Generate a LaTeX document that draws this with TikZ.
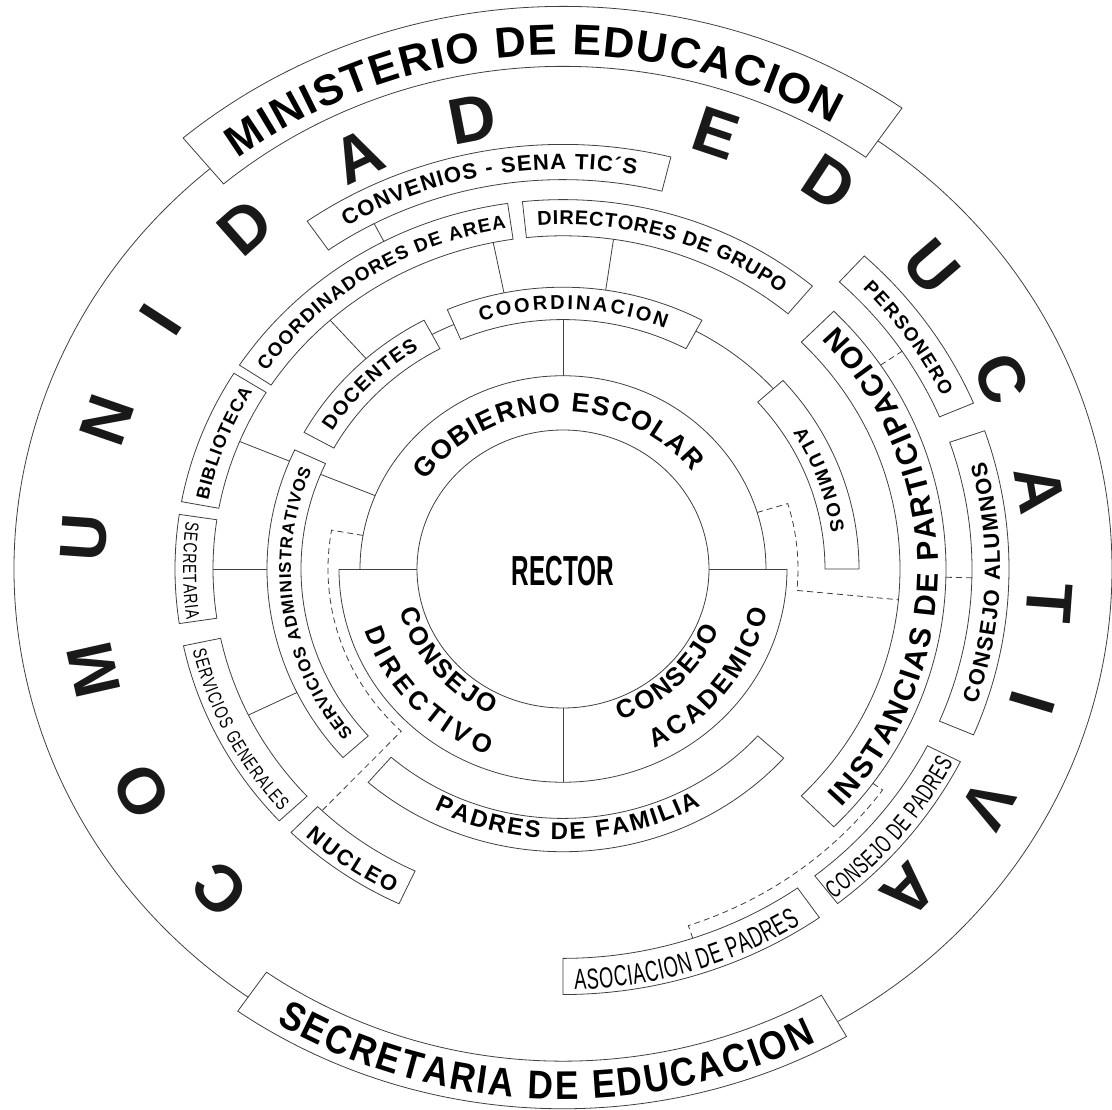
\documentclass[tikz,border=0pt]{standalone}
\usepackage{fontspec}
\setmainfont{Liberation Sans}
\newfontfamily\narrowf[FakeStretch=0.74]{Liberation Sans}
\newfontfamily\narrowg[FakeStretch=0.63]{Liberation Sans}
\newfontfamily\secf[FakeStretch=0.88]{Liberation Sans Bold}
\newfontfamily\rectorf[FakeStretch=0.58]{Liberation Sans Bold}
\usetikzlibrary{decorations.text}

\tikzset{
  ln/.style={line width=0.8pt, draw=black!75},
  dsh/.style={line width=0.8pt, draw=black!75, dash pattern=on 6pt off 4pt},
  big/.style={font=\fontsize{65}{65}\selectfont\bfseries, inner sep=0pt, text=black!90},
}

% annular box: r1 r2 a1 a2
\newcommand{\rbox}[4]{%
  \draw[ln] (#3:#1) arc[start angle=#3,end angle=#4,radius=#1] -- (#4:#2)
    arc[start angle=#4,end angle=#3,radius=#2] -- cycle;}
% text along arc: r a1 a2 format text
\newcommand{\atext}[5]{%
  \path[decorate,decoration={text along path,text align={fit to path},
    text={|#4|#5}}] (#2:#1) arc[start angle=#2,end angle=#3,radius=#1];}
\newcommand{\fs}[1]{\fontsize{#1}{#1}\selectfont}

\begin{document}
\begin{tikzpicture}[x=1pt,y=0.952pt]
\useasboundingbox (-563pt,-541pt) rectangle (549pt,569pt);
\fill[white] (-563pt,-541pt) rectangle (549pt,569pt);

% ---- core ----
\draw[ln] (0,0) circle[radius=146];
\draw[ln] (0:203) arc[start angle=0,end angle=180,radius=203];
\draw[ln] (180:224) arc[start angle=180,end angle=360,radius=224];
\coordinate (hL1) at (180:224); \coordinate (hL2) at (180:146);
\coordinate (hR1) at (0:224);   \coordinate (hR2) at (0:146);
\coordinate (vB1) at (270:146); \coordinate (vB2) at (270:224);
\coordinate (vT1) at (90:203);  \coordinate (vT2) at (90:262);
\draw[ln] (hL1) -- (hL2);
\draw[ln] (hR1) -- (hR2);
\draw[ln] (vB1) -- (vB2);
\draw[ln] (vT1) -- (vT2);

% ---- outer circle ----
\draw[ln] (130:549) arc[start angle=130,end angle=235,radius=549];
\draw[ln] (-60:549) arc[start angle=-60,end angle=55,radius=549];

% ---- boxes ----
\rbox{528}{591}{55}{130}      % ministerio
\rbox{517}{567}{235}{300}     % secretaria de educacion
\rbox{409}{446}{76}{125}      % convenios
\rbox{350}{388}{98.2}{146.5}  % coordinadores
\rbox{350}{388}{50}{96}       % directores
\rbox{262}{296}{62}{113}      % coordinacion
\rbox{262}{296}{118}{151}     % docentes
\rbox{262}{296}{0}{42}        % alumnos
\rbox{262}{296}{155}{222}     % servicios administrativos
\rbox{350}{388}{148}{169.5}   % biblioteca
\rbox{350}{388}{171.5}{188.5} % secretaria
\rbox{350}{388}{192}{223}     % servicios generales
\rbox{350}{388}{225.5}{245}   % nucleo
\rbox{262}{297}{229}{318}     % padres de familia
\rbox{337}{383}{-45}{45}      % instancias
\rbox{409}{446}{23}{47.5}     % personero
\rbox{409}{446}{-23}{19}      % consejo alumnos
\rbox{409}{446}{-52}{-27}     % consejo de padres
\rbox{409}{447}{-90}{-55}     % asociacion

% ---- solid connectors ----
\coordinate (s1a) at (157.7:203); \coordinate (s1b) at (157.7:262);
\coordinate (s2a) at (157.5:296); \coordinate (s2b) at (157.5:350);
\coordinate (s3a) at (180:296);   \coordinate (s3b) at (180:350);
\coordinate (s4a) at (206:296);   \coordinate (s4b) at (206:350);
\coordinate (s5a) at (131.7:296); \coordinate (s5b) at (131.7:350);
\coordinate (s6a) at (101.5:296); \coordinate (s6b) at (101.5:350);
\coordinate (s7a) at (81.7:296);  \coordinate (s7b) at (81.7:350);
\coordinate (s8a) at (117.5:388); \coordinate (s8b) at (117.5:409);
\draw[ln] (s1a) -- (s1b);
\draw[ln] (s2a) -- (s2b);
\draw[ln] (s3a) -- (s3b);
\draw[ln] (s4a) -- (s4b);
\draw[ln] (s5a) -- (s5b);
\draw[ln] (s6a) -- (s6b);
\draw[ln] (s7a) -- (s7b);
\draw[ln] (s8a) -- (s8b);
\coordinate (cdA) at (113:279);
\coordinate (caA) at (62:283);
\draw[ln] (cdA) arc[start angle=113,end angle=118,radius=279];
\draw[ln] (caA) arc[start angle=62,end angle=42,radius=283];

% ---- dashed connectors ----
\coordinate (d1a) at (170:203); \coordinate (d1b) at (170:235); \coordinate (d1c) at (226.5:350);
\draw[dsh] (d1a) -- (d1b) arc[start angle=170,end angle=226.5,radius=235] -- (d1c);
\coordinate (d2a) at (17:203); \coordinate (d2b) at (17:235); \coordinate (d2c) at (-5.5:337);
\draw[dsh] (d2a) -- (d2b) arc[start angle=17,end angle=-5.5,radius=235] -- (d2c);
\coordinate (d3a) at (-1.3:383); \coordinate (d3b) at (-1.3:409);
\draw[dsh] (d3a) -- (d3b);
\coordinate (d4a) at (34:383); \coordinate (d4b) at (34:409);
\draw[dsh] (d4a) -- (d4b);
\coordinate (d5a) at (-36:383); \coordinate (d5b) at (-36:395); \coordinate (d5c) at (-71.5:409);
\draw[dsh] (d5a) -- (d5b) arc[start angle=-36,end angle=-71.5,radius=395] -- (d5c);

% ---- labels (clockwise, reading outward) ----
\atext{540}{127}{60}{\fs{43}\bfseries}{MINISTERIO DE EDUCACION}
\atext{420}{121}{80}{\fs{22}\bfseries}{CONVENIOS - SENA  TIC´S}
\atext{362}{145}{99}{\fs{19}\bfseries}{COORDINADORES DE AREA}
\atext{362}{94}{53}{\fs{20}\bfseries}{DIRECTORES DE GRUPO}
\atext{273}{107.5}{68}{\fs{20}\bfseries}{COORDINACION}
\atext{272}{148}{122}{\fs{20}\bfseries}{DOCENTES}
\atext{362}{168.5}{149}{\fs{18}\bfseries}{BIBLIOTECA}
\atext{272}{219.5}{157.5}{\fs{17}\bfseries}{SERVICIOS ADMINISTRATIVOS}
\atext{271}{32}{8}{\fs{19}\bfseries}{ALUMNOS}
\atext{420}{44.5}{25.5}{\fs{19}\bfseries}{PERSONERO}
\atext{165}{146}{38}{\fs{27}\bfseries}{GOBIERNO ESCOLAR}

% ---- labels (counterclockwise, reading inward) ----
\atext{557}{239}{297}{\fs{40}\secf}{SECRETARIA DE EDUCACION}
\atext{284}{243}{299}{\fs{24}\bfseries}{PADRES DE FAMILIA}
\atext{381}{227.5}{243.5}{\fs{22}\bfseries}{NUCLEO}
\atext{442}{271.5}{302.5}{\fs{29}\narrowg}{ASOCIACION DE PADRES}
\atext{440}{308}{332.5}{\fs{25}\narrowg}{CONSEJO DE PADRES}
\atext{437}{-19}{15}{\fs{22}\bfseries}{CONSEJO ALUMNOS}
\atext{375}{-42}{43}{\fs{30}\bfseries}{INSTANCIAS DE PARTICIPACION}
\atext{380}{172.5}{188}{\fs{19}\narrowf}{SECRETARIA}
\atext{380}{193}{222}{\fs{19}\narrowf}{SERVICIOS GENERALES}
\atext{169}{195}{245}{\fs{26}\bfseries}{CONSEJO}
\atext{209}{198}{249}{\fs{26}\bfseries}{DIRECTIVO}
\atext{169}{-70}{-22}{\fs{26}\bfseries}{CONSEJO}
\atext{209}{-64}{-12}{\fs{26}\bfseries}{ACADEMICO}

\node[font=\rectorf\fs{42}, inner sep=0pt] (rector) at (0,-2) {RECTOR};

% ---- COMUNIDAD EDUCATIVA ----
\node[big, rotate=134.5] (L1) at (224.5:481) {C};
\node[big, rotate=119]   (L2) at (209:482) {O};
\node[big, rotate=102.7] (L3) at (192.7:481) {M};
\node[big, rotate=86]    (L4) at (176:480) {U};
\node[big, rotate=71]    (L5) at (161:482) {N};
\node[big, rotate=57]    (L6) at (147:480) {I};
\node[big, rotate=41.5]  (L7) at (131.5:480) {D};
\node[big, rotate=25.3]  (L8) at (115.3:480) {A};
\node[big, rotate=10.9]  (L9) at (100.9:481) {D};
\node[big, rotate=-18.5] (L10) at (71.5:483) {E};
\node[big, rotate=-33.3] (L11) at (56.7:485) {D};
\node[big, rotate=-49.3] (L12) at (40.7:486) {U};
\node[big, rotate=-65.5] (L13) at (24.5:482) {C};
\node[big, rotate=-80.1] (L14) at (9.9:484) {A};
\node[big, rotate=-94.2] (L15) at (-4.2:488) {T};
\node[big, rotate=-106.6] (L16) at (-16.6:490) {I};
\node[big, rotate=-120.2] (L17) at (-30.2:492) {V};
\node[big, rotate=-134.4] (L18) at (-44.4:484) {A};
\end{tikzpicture}
\end{document}
